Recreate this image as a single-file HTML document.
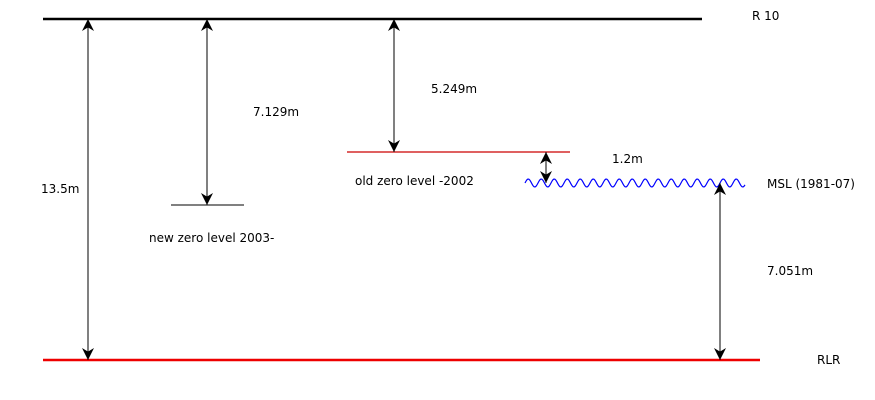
<!DOCTYPE html>
<html><head><meta charset="utf-8"><style>
html,body{margin:0;padding:0;background:#fff;}
svg{display:block;font-family:"DejaVu Sans","Liberation Sans",sans-serif;font-size:12px;}
</style></head><body>
<svg id="chart" width="875" height="400" viewBox="0 0 875 400">
<defs>
<marker id="ah" viewBox="0 0 10 10" refX="10" refY="5" markerWidth="16" markerHeight="12" orient="auto-start-reverse" markerUnits="userSpaceOnUse">
<path d="M0,0 L10,5 L0,10 L3,5 Z" fill="#000"/>
</marker>
</defs>
<g id="marks"></g>
</svg>
<script>
const levelNames = ['r10-line','rlr-line','old-zero-line','new-zero-line'];
const levelY = [19, 360, 152, 205];
const levelX1 = [43, 43, 347, 171];
const levelX2 = [702, 760, 570, 244];
const levelColors = ['#000','#e00','#c00','#000'];
const levelWidths = [2.5, 2.5, 1.2, 1];

const arrowNames = ['arrow-13-5m','arrow-7-129m','arrow-5-249m','arrow-1-2m','arrow-7-051m'];
const arrowX = [88, 207, 394, 546, 720];
const arrowTop = [19, 19, 19, 152, 183];
const arrowBottom = [360, 205, 152, 183, 360];

const labelNames = ['label-r10','label-13-5m','label-7-129m','label-5-249m','label-1-2m','label-old-zero','label-msl','label-new-zero','label-7-051m','label-rlr'];
const labelText = ['R 10','13.5m','7.129m','5.249m','1.2m','old zero level -2002','MSL (1981-07)','new zero level 2003-','7.051m','RLR'];
const labelX = [752, 41, 253, 431, 612, 355, 767, 149, 767, 817];
const labelY = [20, 193, 116, 93, 163, 185, 188, 242, 275, 364];

const mslY = 183, mslX1 = 525, mslX2 = 745, mslPeriod = 13, mslAmp = 4;

const ns = 'http://www.w3.org/2000/svg';
const g = document.getElementById('marks');
function mk(tag, attrs){const e=document.createElementNS(ns,tag);for(const k in attrs)e.setAttribute(k,attrs[k]);g.appendChild(e);return e;}

levelY.forEach((y,i)=>{
  const e = mk('line',{x1:levelX1[i],x2:levelX2[i],y1:y,y2:y,stroke:levelColors[i],'stroke-width':levelWidths[i]});
  
  
});

let d = 'M'+mslX1+','+mslY;
for(let x=mslX1; x<=mslX2; x+=1){ d += ' L'+x+','+(mslY - mslAmp*Math.sin((x-mslX1)/mslPeriod*2*Math.PI)).toFixed(2); }
const w = mk('path',{d:d,fill:'none',stroke:'#00f','stroke-width':1.2});



arrowX.forEach((x,i)=>{
  const e = mk('line',{x1:x,x2:x,y1:arrowTop[i],y2:arrowBottom[i],stroke:'#000','stroke-width':1,'marker-start':'url(#ah)','marker-end':'url(#ah)'});
  
  
});

labelText.forEach((t,i)=>{
  const e = mk('text',{x:labelX[i],y:labelY[i],fill:'#000'});
  e.textContent = t;
  
  
});
</script>
</body></html>
